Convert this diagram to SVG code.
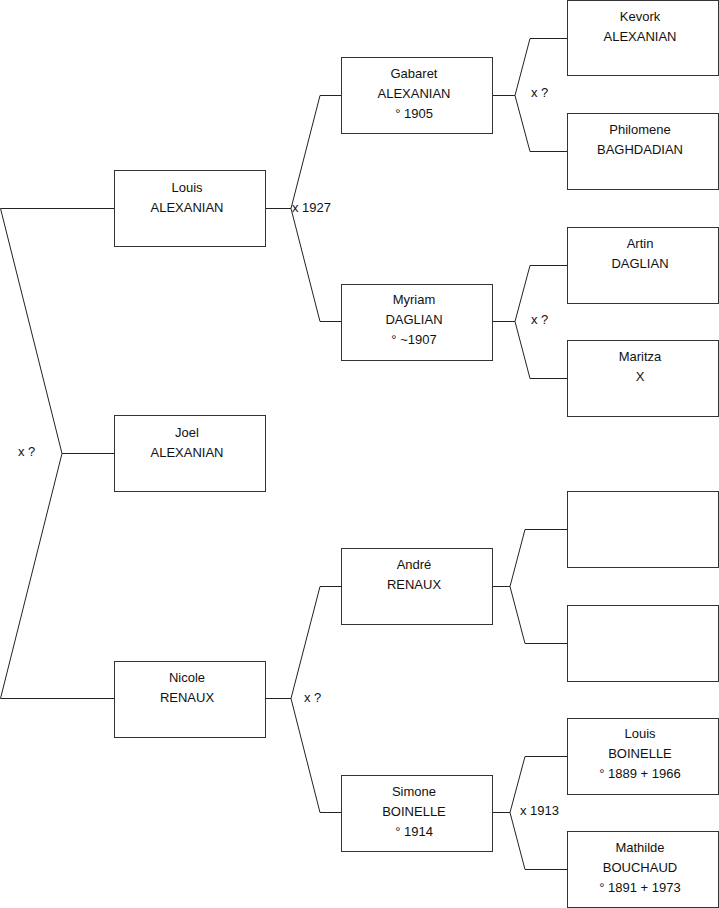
<svg xmlns="http://www.w3.org/2000/svg" width="719" height="908" viewBox="0 0 719 908">
<style>
.box{fill:#fff;stroke:#333;stroke-width:1}
.t{font-family:"Liberation Sans",Arial,sans-serif;font-size:13px;fill:#111;text-anchor:middle}
.l{font-family:"Liberation Sans",Arial,sans-serif;font-size:13px;fill:#111}
.c{fill:none;stroke:#222;stroke-width:1}
</style>
<rect width="719" height="908" fill="#fff"/>
<g id="connectors">
<polyline class="c" points="114,208.5 0.5,208.5 62,453.5 0.5,698.5 114,698.5"/>
<line class="c" x1="62" y1="453.5" x2="114" y2="453.5"/>
<polyline class="c" points="265,208.5 291,208.5"/>
<polyline class="c" points="341,95.5 320,95.5 291,208.5 320,321.5 341,321.5"/>
<polyline class="c" points="265,698.5 291,698.5"/>
<polyline class="c" points="341,586.5 320,586.5 291,698.5 320,812.5 341,812.5"/>
<polyline class="c" points="492,95.5 515,95.5"/>
<polyline class="c" points="567,38.5 530,38.5 515,95.5 530,151.5 567,151.5"/>
<polyline class="c" points="492,321.5 515,321.5"/>
<polyline class="c" points="567,265.5 530,265.5 515,321.5 530,378.5 567,378.5"/>
<polyline class="c" points="492,586.5 510,586.5"/>
<polyline class="c" points="567,529.5 525,529.5 510,586.5 525,643.5 567,643.5"/>
<polyline class="c" points="492,812.5 510,812.5"/>
<polyline class="c" points="567,756.5 525,756.5 510,812.5 525,869.5 567,869.5"/>
<text class="l" x="18" y="456">x ?</text>
<text class="l" x="292" y="212">x 1927</text>
<text class="l" x="304" y="702">x ?</text>
<text class="l" x="531" y="97">x ?</text>
<text class="l" x="531" y="324">x ?</text>
<text class="l" x="520" y="815">x 1913</text>
</g>
<g id="louis-alexanian"><rect class="box" x="114.5" y="170.5" width="151" height="76"/><text class="t" x="187" y="191.5">Louis</text><text class="t" x="187" y="211.5">ALEXANIAN</text></g>
<g id="joel-alexanian"><rect class="box" x="114.5" y="415.5" width="151" height="76"/><text class="t" x="187" y="437">Joel</text><text class="t" x="187" y="457">ALEXANIAN</text></g>
<g id="nicole-renaux"><rect class="box" x="114.5" y="661.5" width="151" height="76"/><text class="t" x="187" y="682">Nicole</text><text class="t" x="187" y="702">RENAUX</text></g>
<g id="gabaret-alexanian"><rect class="box" x="341.5" y="57.5" width="151" height="76"/><text class="t" x="414" y="78">Gabaret</text><text class="t" x="414" y="98">ALEXANIAN</text><text class="t" x="414" y="118">° 1905</text></g>
<g id="myriam-daglian"><rect class="box" x="341.5" y="284.5" width="151" height="76"/><text class="t" x="414" y="304">Myriam</text><text class="t" x="414" y="324">DAGLIAN</text><text class="t" x="414" y="344">° ~1907</text></g>
<g id="andre-renaux"><rect class="box" x="341.5" y="548.5" width="151" height="76"/><text class="t" x="414" y="569">André</text><text class="t" x="414" y="589">RENAUX</text></g>
<g id="simone-boinelle"><rect class="box" x="341.5" y="775.5" width="151" height="76"/><text class="t" x="414" y="796">Simone</text><text class="t" x="414" y="816">BOINELLE</text><text class="t" x="414" y="836">° 1914</text></g>
<g id="kevork-alexanian"><rect class="box" x="567.5" y="0.5" width="151" height="75"/><text class="t" x="640" y="21">Kevork</text><text class="t" x="640" y="41">ALEXANIAN</text></g>
<g id="philomene-baghdadian"><rect class="box" x="567.5" y="113.5" width="151" height="76"/><text class="t" x="640" y="134">Philomene</text><text class="t" x="640" y="154">BAGHDADIAN</text></g>
<g id="artin-daglian"><rect class="box" x="567.5" y="227.5" width="151" height="76"/><text class="t" x="640" y="248">Artin</text><text class="t" x="640" y="268">DAGLIAN</text></g>
<g id="maritza-x"><rect class="box" x="567.5" y="340.5" width="151" height="76"/><text class="t" x="640" y="361">Maritza</text><text class="t" x="640" y="381">X</text></g>
<g id="unknown-1"><rect class="box" x="567.5" y="491.5" width="151" height="76"/></g>
<g id="unknown-2"><rect class="box" x="567.5" y="605.5" width="151" height="76"/></g>
<g id="louis-boinelle"><rect class="box" x="567.5" y="718.5" width="151" height="76"/><text class="t" x="640" y="738">Louis</text><text class="t" x="640" y="758">BOINELLE</text><text class="t" x="640" y="778">° 1889 + 1966</text></g>
<g id="mathilde-bouchaud"><rect class="box" x="567.5" y="831.5" width="151" height="76"/><text class="t" x="640" y="852">Mathilde</text><text class="t" x="640" y="872">BOUCHAUD</text><text class="t" x="640" y="892">° 1891 + 1973</text></g>
</svg>
